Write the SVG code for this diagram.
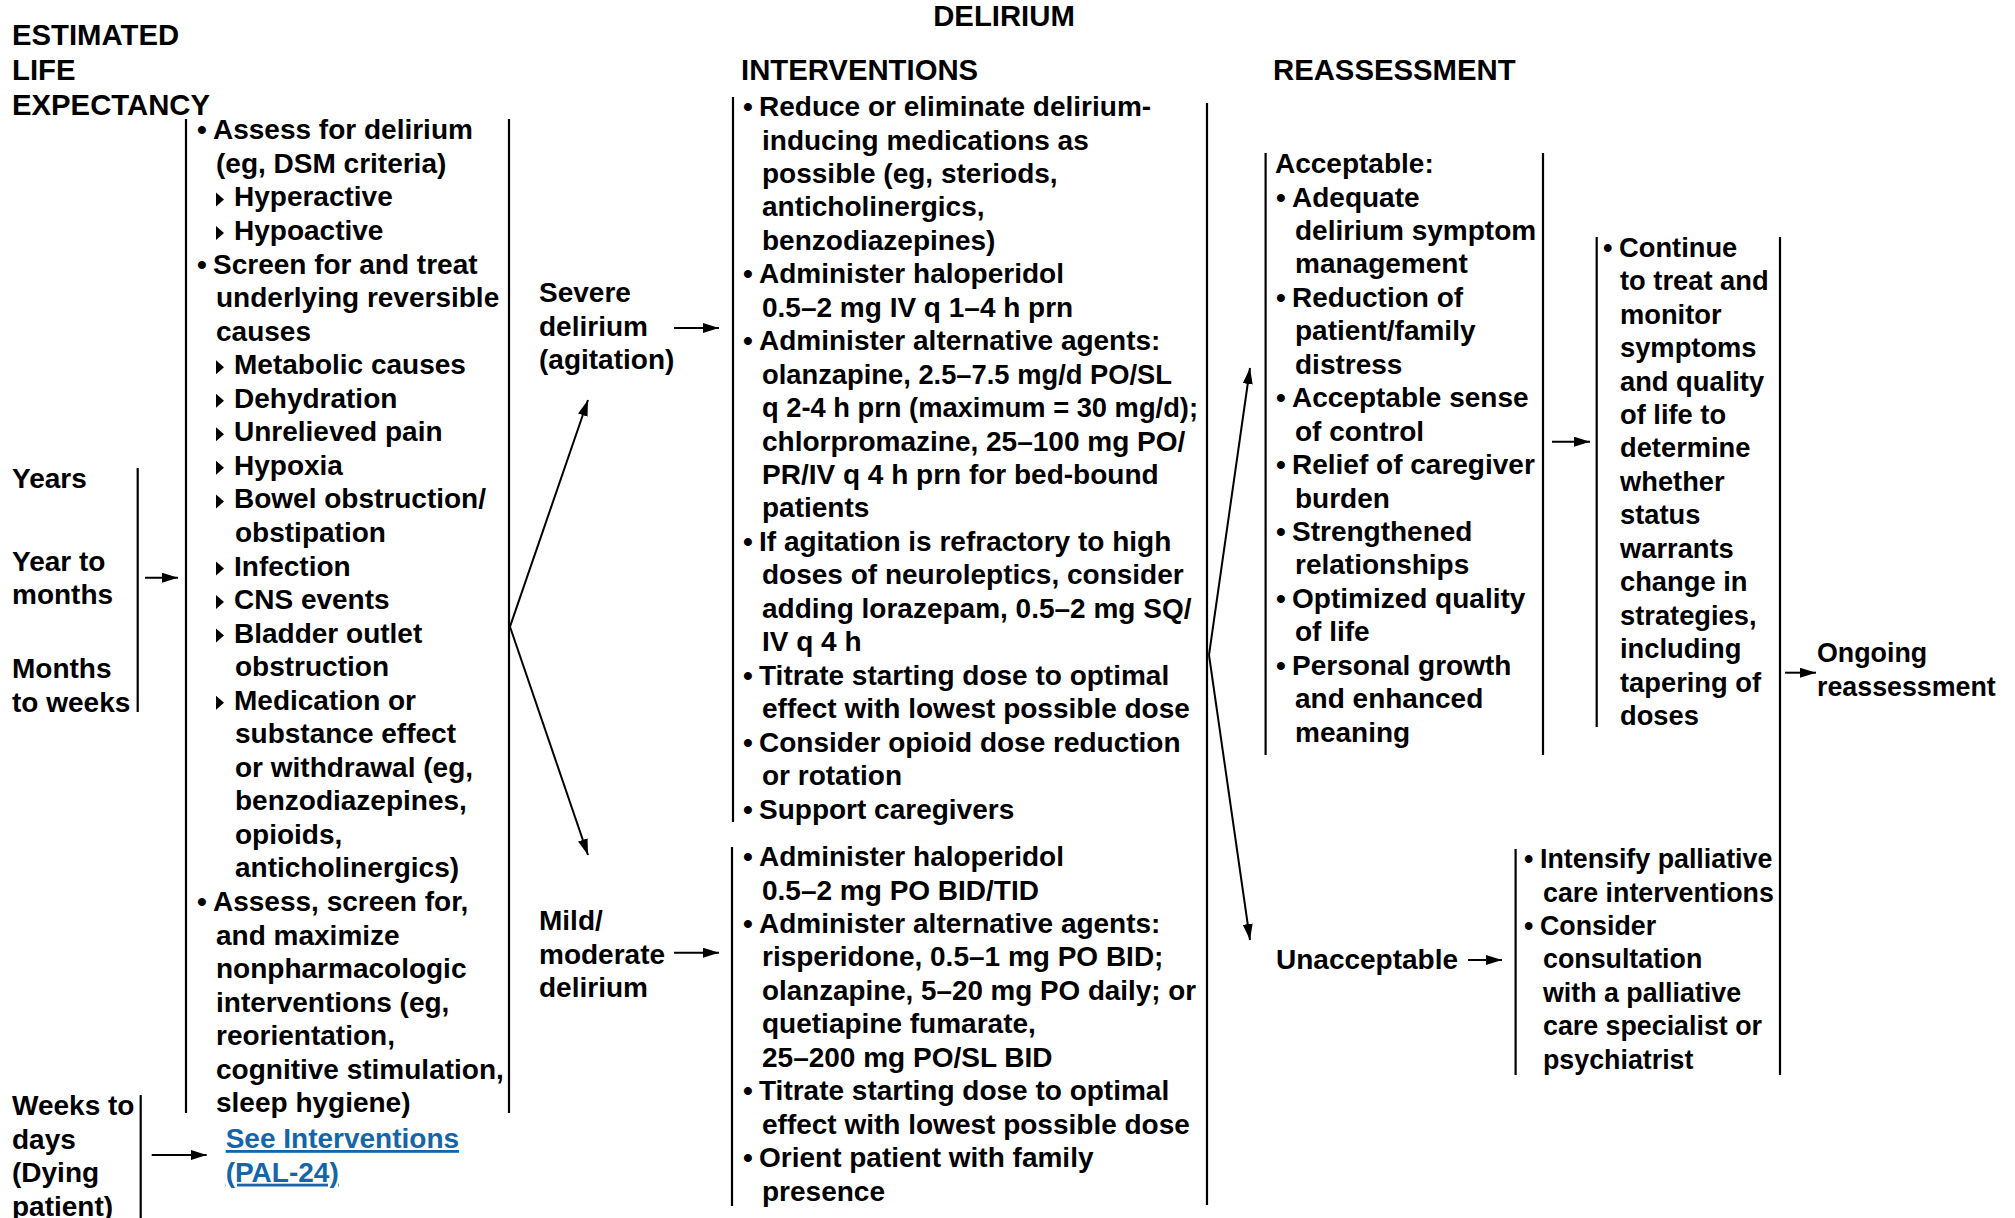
<svg xmlns="http://www.w3.org/2000/svg" width="2015" height="1218" viewBox="0 0 2015 1218">
  <style>
    text { font-family: "Liberation Sans", Arial, sans-serif; font-weight: bold; font-size: 28px; fill: #000; }
    .hd { font-size: 29.3px; }
    .narrow { font-size: 27.3px; }
    .tight { font-size: 26.8px; }
    .link { fill: #1466a8; text-decoration: underline; }
    .rule { stroke: #000; stroke-width: 2.2; fill: none; }
    .conn { stroke: #000; stroke-width: 2; fill: none; marker-end: url(#ah); }
  </style>
  <defs>
    <marker id="ah" viewBox="0 0 16 10" refX="16" refY="5" markerWidth="16" markerHeight="10" orient="auto" markerUnits="userSpaceOnUse">
      <path d="M0,0 L16,5 L0,10 z" fill="#000"/>
    </marker>
    <path id="sub" d="M0,-14 L8,-7 L0,0 z"/>
  </defs>
  <rect width="2015" height="1218" fill="#fff"/>

  <!-- column headings -->
  <g id="headings">
    <text class="hd" x="12" y="45">ESTIMATED</text>
    <text class="hd" x="12" y="80">LIFE</text>
    <text class="hd" x="12" y="115">EXPECTANCY</text>
    <text class="hd" x="1004" y="26" text-anchor="middle">DELIRIUM</text>
    <text class="hd" x="741" y="80">INTERVENTIONS</text>
    <text class="hd" x="1273" y="80">REASSESSMENT</text>
  </g>

  <!-- life expectancy ranges -->
  <g id="life-long">
    <text x="12" y="487.7">Years</text>
    <text x="12" y="570.7">Year to</text>
    <text x="12" y="604">months</text>
    <text x="12" y="678">Months</text>
    <text x="12" y="711.7">to weeks</text>
    <line class="rule" x1="137.7" y1="468" x2="137.7" y2="712"/>
  </g>
  <g id="life-short">
    <text x="12" y="1115">Weeks to</text>
    <text x="12" y="1148.5">days</text>
    <text x="12" y="1182">(Dying</text>
    <text x="12" y="1215.5">patient)</text>
    <line class="rule" x1="140.7" y1="1095" x2="140.7" y2="1218"/>
  </g>

  <!-- assessment box -->
  <g id="assess">
    <line class="rule" x1="186" y1="119" x2="186" y2="1113"/>
    <line class="rule" x1="509" y1="119" x2="509" y2="1113"/>
    <text x="197" y="139.3">•<tspan x="213">Assess for delirium</tspan></text>
    <text x="216" y="172.9">(eg, DSM criteria)</text>
    <use href="#sub" x="216" y="206.4"/><text x="234" y="206.4">Hyperactive</text>
    <use href="#sub" x="216" y="240"/><text x="234" y="240">Hypoactive</text>
    <text x="197" y="273.5">•<tspan x="213">Screen for and treat</tspan></text>
    <text x="216" y="307.1">underlying reversible</text>
    <text x="216" y="340.6">causes</text>
    <use href="#sub" x="216" y="374.2"/><text x="234" y="374.2">Metabolic causes</text>
    <use href="#sub" x="216" y="407.7"/><text x="234" y="407.7">Dehydration</text>
    <use href="#sub" x="216" y="441.3"/><text x="234" y="441.3">Unrelieved pain</text>
    <use href="#sub" x="216" y="474.8"/><text x="234" y="474.8">Hypoxia</text>
    <use href="#sub" x="216" y="508.4"/><text x="234" y="508.4">Bowel obstruction/</text>
    <text x="235" y="541.9">obstipation</text>
    <use href="#sub" x="216" y="575.5"/><text x="234" y="575.5">Infection</text>
    <use href="#sub" x="216" y="609"/><text x="234" y="609">CNS events</text>
    <use href="#sub" x="216" y="642.6"/><text x="234" y="642.6">Bladder outlet</text>
    <text x="235" y="676.1">obstruction</text>
    <use href="#sub" x="216" y="709.7"/><text x="234" y="709.7">Medication or</text>
    <text x="235" y="743.2">substance effect</text>
    <text x="235" y="776.8">or withdrawal (eg,</text>
    <text x="235" y="810.3">benzodiazepines,</text>
    <text x="235" y="843.9">opioids,</text>
    <text x="235" y="877.4">anticholinergics)</text>
    <text x="197" y="911">•<tspan x="213">Assess, screen for,</tspan></text>
    <text x="216" y="944.5">and maximize</text>
    <text x="216" y="978.1">nonpharmacologic</text>
    <text x="216" y="1011.6">interventions (eg,</text>
    <text x="216" y="1045.2">reorientation,</text>
    <text x="216" y="1078.7">cognitive stimulation,</text>
    <text x="216" y="1112.3">sleep hygiene)</text>
  </g>

  <g id="see-pal24">
    <text class="link" x="225.7" y="1148">See Interventions</text>
    <text class="link" x="225.7" y="1181.7">(PAL-24)</text>
  </g>

  <!-- severity labels -->
  <g id="severe">
    <text x="539" y="302">Severe</text>
    <text x="539" y="335.5">delirium</text>
    <text x="539" y="369">(agitation)</text>
  </g>
  <g id="mild">
    <text x="539" y="930">Mild/</text>
    <text x="539" y="963.5">moderate</text>
    <text x="539" y="997">delirium</text>
  </g>

  <!-- interventions for severe delirium -->
  <g id="severe-interventions">
    <line class="rule" x1="733" y1="97" x2="733" y2="822"/>
    <text x="743" y="116">•<tspan x="759">Reduce or eliminate delirium-</tspan></text>
    <text x="762" y="149.5">inducing medications as</text>
    <text x="762" y="182.9">possible (eg, steriods,</text>
    <text x="762" y="216.4">anticholinergics,</text>
    <text x="762" y="249.8">benzodiazepines)</text>
    <text x="743" y="283.3">•<tspan x="759">Administer haloperidol</tspan></text>
    <text x="762" y="316.7">0.5–2 mg IV q 1–4 h prn</text>
    <text x="743" y="350.2">•<tspan x="759">Administer alternative agents:</tspan></text>
    <text x="762" y="383.6" textLength="410" lengthAdjust="spacingAndGlyphs">olanzapine, 2.5–7.5 mg/d PO/SL</text>
    <text x="762" y="417.1" textLength="436" lengthAdjust="spacingAndGlyphs">q 2-4 h prn (maximum = 30 mg/d);</text>
    <text x="762" y="450.5">chlorpromazine, 25–100 mg PO/</text>
    <text x="762" y="484">PR/IV q 4 h prn for bed-bound</text>
    <text x="762" y="517.4">patients</text>
    <text x="743" y="550.9">•<tspan x="759">If agitation is refractory to high</tspan></text>
    <text x="762" y="584.3">doses of neuroleptics, consider</text>
    <text x="762" y="617.8">adding lorazepam, 0.5–2 mg SQ/</text>
    <text x="762" y="651.2">IV q 4 h</text>
    <text x="743" y="684.7">•<tspan x="759">Titrate starting dose to optimal</tspan></text>
    <text x="762" y="718.1">effect with lowest possible dose</text>
    <text x="743" y="751.6">•<tspan x="759">Consider opioid dose reduction</tspan></text>
    <text x="762" y="785">or rotation</text>
    <text x="743" y="818.5">•<tspan x="759">Support caregivers</tspan></text>
  </g>

  <!-- interventions for mild/moderate delirium -->
  <g id="mild-interventions">
    <line class="rule" x1="732" y1="847" x2="732" y2="1206"/>
    <text x="743" y="866">•<tspan x="759">Administer haloperidol</tspan></text>
    <text x="762" y="899.5">0.5–2 mg PO BID/TID</text>
    <text x="743" y="932.9">•<tspan x="759">Administer alternative agents:</tspan></text>
    <text x="762" y="966.4">risperidone, 0.5–1 mg PO BID;</text>
    <text x="762" y="999.8" textLength="434" lengthAdjust="spacingAndGlyphs">olanzapine, 5–20 mg PO daily; or</text>
    <text x="762" y="1033.3">quetiapine fumarate,</text>
    <text x="762" y="1066.7">25–200 mg PO/SL BID</text>
    <text x="743" y="1100.2">•<tspan x="759">Titrate starting dose to optimal</tspan></text>
    <text x="762" y="1133.6">effect with lowest possible dose</text>
    <text x="743" y="1167.1">•<tspan x="759">Orient patient with family</tspan></text>
    <text x="762" y="1200.5">presence</text>
  </g>

  <line id="interventions-rule" class="rule" x1="1207" y1="103" x2="1207" y2="1205"/>

  <!-- acceptable outcome -->
  <g id="acceptable">
    <line class="rule" x1="1265.6" y1="153" x2="1265.6" y2="755"/>
    <line class="rule" x1="1543" y1="153" x2="1543" y2="755"/>
    <text x="1275" y="173">Acceptable:</text>
    <text x="1276" y="206.5">•<tspan x="1292">Adequate</tspan></text>
    <text x="1295" y="239.9">delirium symptom</text>
    <text x="1295" y="273.4">management</text>
    <text x="1276" y="306.8">•<tspan x="1292">Reduction of</tspan></text>
    <text x="1295" y="340.3">patient/family</text>
    <text x="1295" y="373.7">distress</text>
    <text x="1276" y="407.2">•<tspan x="1292">Acceptable sense</tspan></text>
    <text x="1295" y="440.6">of control</text>
    <text x="1276" y="474.1">•<tspan x="1292">Relief of caregiver</tspan></text>
    <text x="1295" y="507.5">burden</text>
    <text x="1276" y="541">•<tspan x="1292">Strengthened</tspan></text>
    <text x="1295" y="574.4">relationships</text>
    <text x="1276" y="607.9">•<tspan x="1292">Optimized quality</tspan></text>
    <text x="1295" y="641.3">of life</text>
    <text x="1276" y="674.8">•<tspan x="1292">Personal growth</tspan></text>
    <text x="1295" y="708.2">and enhanced</text>
    <text x="1295" y="741.7">meaning</text>
  </g>

  <!-- continue treatment -->
  <g id="continue" class="narrow">
    <line class="rule" x1="1596.7" y1="237" x2="1596.7" y2="727"/>
    <text class="narrow" x="1603" y="256.7">•<tspan x="1619">Continue</tspan></text>
    <text class="narrow" x="1620" y="290.2">to treat and</text>
    <text class="narrow" x="1620" y="323.6">monitor</text>
    <text class="narrow" x="1620" y="357.1">symptoms</text>
    <text class="narrow" x="1620" y="390.5">and quality</text>
    <text class="narrow" x="1620" y="424">of life to</text>
    <text class="narrow" x="1620" y="457.4">determine</text>
    <text class="narrow" x="1620" y="490.9">whether</text>
    <text class="narrow" x="1620" y="524.3">status</text>
    <text class="narrow" x="1620" y="557.8">warrants</text>
    <text class="narrow" x="1620" y="591.2">change in</text>
    <text class="narrow" x="1620" y="624.7">strategies,</text>
    <text class="narrow" x="1620" y="658.1">including</text>
    <text class="narrow" x="1620" y="691.6">tapering of</text>
    <text class="narrow" x="1620" y="725">doses</text>
  </g>

  <line id="continue-rule" class="rule" x1="1780" y1="237" x2="1780" y2="1075"/>

  <g id="ongoing">
    <text class="tight" x="1817" y="662">Ongoing</text>
    <text class="tight" x="1817" y="695.5">reassessment</text>
  </g>

  <g id="unacceptable">
    <text x="1276" y="969">Unacceptable</text>
  </g>

  <!-- unacceptable outcome actions -->
  <g id="intensify">
    <line class="rule" x1="1515.6" y1="849" x2="1515.6" y2="1075"/>
    <text class="tight" x="1524" y="868">•<tspan x="1540">Intensify palliative</tspan></text>
    <text class="tight" x="1543" y="901.5">care interventions</text>
    <text class="tight" x="1524" y="934.9">•<tspan x="1540">Consider</tspan></text>
    <text class="tight" x="1543" y="968.4">consultation</text>
    <text class="tight" x="1543" y="1001.8">with a palliative</text>
    <text class="tight" x="1543" y="1035.3">care specialist or</text>
    <text class="tight" x="1543" y="1068.7">psychiatrist</text>
  </g>

  <!-- connectors -->
  <g id="connectors">
    <line class="conn" x1="145" y1="577.7" x2="178" y2="577.7"/>
    <line class="conn" x1="151.7" y1="1155" x2="206.7" y2="1155"/>
    <line class="conn" x1="510" y1="626.7" x2="588" y2="400"/>
    <line class="conn" x1="510" y1="626.7" x2="588" y2="855"/>
    <line class="conn" x1="674" y1="328" x2="719" y2="328"/>
    <line class="conn" x1="674" y1="952.7" x2="719" y2="952.7"/>
    <line class="conn" x1="1209" y1="655" x2="1250" y2="368"/>
    <line class="conn" x1="1209" y1="655" x2="1250" y2="940"/>
    <line class="conn" x1="1552" y1="441.7" x2="1590" y2="441.7"/>
    <line class="conn" x1="1785" y1="672.7" x2="1816" y2="672.7"/>
    <line class="conn" x1="1468" y1="960" x2="1502" y2="960"/>
  </g>
</svg>
